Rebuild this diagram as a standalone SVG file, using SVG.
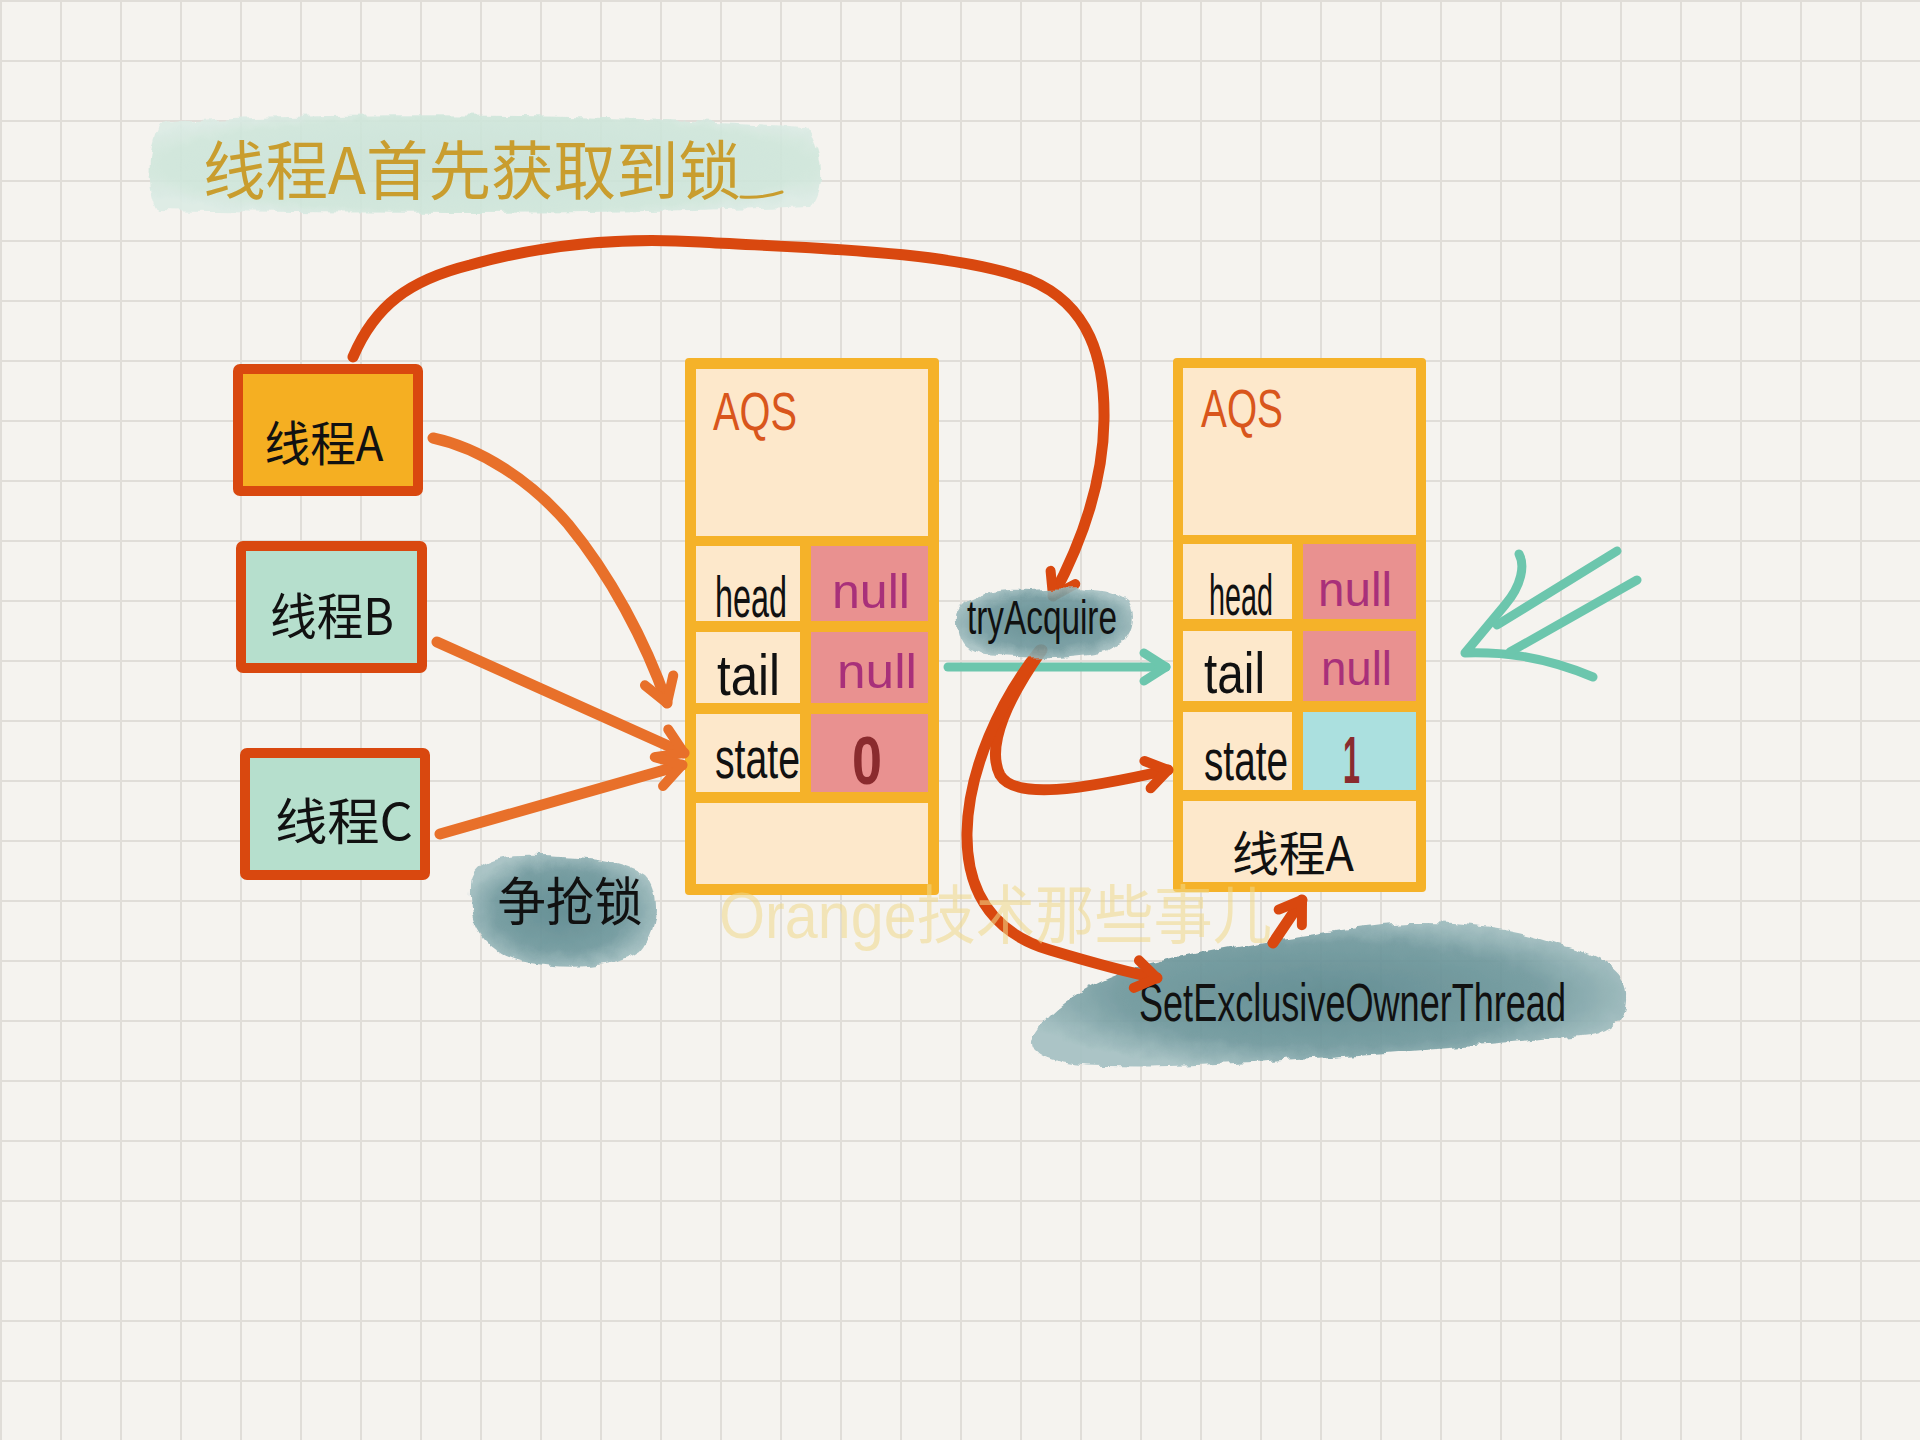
<svg xmlns="http://www.w3.org/2000/svg" width="1920" height="1440" viewBox="0 0 1920 1440">
<defs>
<style>
.hw{font-family:"Liberation Sans","Noto Sans CJK SC",sans-serif;}
.cjk{font-family:"Noto Sans CJK SC","Liberation Sans",sans-serif;}
.lbl{font-size:58px;fill:#111;}
.nul{font-size:48px;fill:#a8307a;}
.cell{fill:#fde8cb;}
.pink{fill:#e99190;}
.frame{fill:#f5b229;}
.tbox{stroke:#d9480f;stroke-width:10;}
.line{fill:none;stroke-linecap:round;stroke-linejoin:round;}
.red{stroke:#d9480f;stroke-width:11;}
.org{stroke:#e8702a;stroke-width:11;}
.teal{stroke:#6cc6ad;stroke-width:9;}
</style>
<pattern id="grid" width="60" height="60" patternUnits="userSpaceOnUse">
<path d="M0,1H60M1,0V60" stroke="#e0ddd8" stroke-width="2" fill="none"/>
</pattern>
<radialGradient id="ink" cx="50%" cy="50%" r="55%">
<stop offset="0" stop-color="#5b888e"/>
<stop offset="0.65" stop-color="#6f989d"/>
<stop offset="1" stop-color="#a5c1c3"/>
</radialGradient>
<radialGradient id="mint" cx="50%" cy="50%" r="60%">
<stop offset="0" stop-color="#c9e2d6"/>
<stop offset="0.8" stop-color="#cfe6db"/>
<stop offset="1" stop-color="#dcece5"/>
</radialGradient>
<filter id="rough" x="-10%" y="-25%" width="120%" height="150%">
<feTurbulence type="fractalNoise" baseFrequency="0.06" numOctaves="3" seed="4" result="n"/>
<feDisplacementMap in="SourceGraphic" in2="n" scale="9" xChannelSelector="R" yChannelSelector="G"/>
</filter>
<marker id="ah-red" markerUnits="userSpaceOnUse" markerWidth="60" markerHeight="60" viewBox="-30 -30 60 60" refX="0" refY="0" orient="auto">
<path d="M-21,-14 L0,0 L-21,14" fill="none" stroke="#d9480f" stroke-width="10" stroke-linecap="round" stroke-linejoin="round"/>
</marker>
<marker id="ah-org" markerUnits="userSpaceOnUse" markerWidth="60" markerHeight="60" viewBox="-30 -30 60 60" refX="0" refY="0" orient="auto">
<path d="M-24,-15 L0,0 L-24,15" fill="none" stroke="#e8702a" stroke-width="10" stroke-linecap="round" stroke-linejoin="round"/>
</marker>
<marker id="ah-teal" markerUnits="userSpaceOnUse" markerWidth="60" markerHeight="60" viewBox="-30 -30 60 60" refX="0" refY="0" orient="auto">
<path d="M-22,-14 L0,0 L-22,14" fill="none" stroke="#6cc6ad" stroke-width="9" stroke-linecap="round" stroke-linejoin="round"/>
</marker>
</defs>

<rect width="1920" height="1440" fill="#f5f3ef"/>
<rect width="1920" height="1440" fill="url(#grid)"/>

<g id="title">
<path d="M160,124 C300,110 600,114 806,127 C824,150 826,190 812,206 C600,216 300,213 158,210 C146,190 147,146 160,124 Z" fill="url(#mint)" opacity="0.9" filter="url(#rough)"/>
<text class="cjk" x="203" y="166" dominant-baseline="central" font-size="64" textLength="538" lengthAdjust="spacingAndGlyphs" fill="#c99d2e">线程A首先获取到锁</text>
<path d="M741,197 C755,198 770,196 782,192" class="line" stroke="#c99d2e" stroke-width="3"/>
</g>

<g id="thread-a">
<rect x="238" y="369" width="180" height="122" rx="2" fill="#f5af22" class="tbox"/>
<text class="cjk" x="324" y="440" dominant-baseline="central" text-anchor="middle" font-size="48" textLength="119" lengthAdjust="spacingAndGlyphs" fill="#111">线程A</text>
</g>
<g id="thread-b">
<rect x="241" y="546" width="181" height="122" rx="2" fill="#b6dfcd" class="tbox"/>
<text class="cjk" x="332" y="613" dominant-baseline="central" text-anchor="middle" font-size="50" textLength="124" lengthAdjust="spacingAndGlyphs" fill="#111">线程B</text>
</g>
<g id="thread-c">
<rect x="245" y="753" width="180" height="122" rx="2" fill="#b6dfcd" class="tbox"/>
<text class="cjk" x="344" y="818" dominant-baseline="central" text-anchor="middle" font-size="50" textLength="138" lengthAdjust="spacingAndGlyphs" fill="#111">线程C</text>
</g>

<g id="aqs-before">
<rect x="685" y="358" width="254" height="537" rx="4" class="frame"/>
<rect x="696" y="369" width="232" height="167" class="cell"/>
<rect x="696" y="546" width="104" height="75" class="cell"/>
<rect x="811" y="546" width="117" height="75" class="pink"/>
<rect x="696" y="632" width="104" height="71" class="cell"/>
<rect x="811" y="632" width="117" height="71" class="pink"/>
<rect x="696" y="714" width="104" height="78" class="cell"/>
<rect x="811" y="714" width="117" height="78" class="pink"/>
<rect x="696" y="803" width="232" height="81" class="cell"/>
<text class="hw" x="713" y="430" font-size="54" textLength="84" lengthAdjust="spacingAndGlyphs" fill="#d9561c">AQS</text>
<text class="hw lbl" transform="translate(715,617) scale(0.558,1)">head</text>
<text class="hw nul" x="832" y="608" textLength="78" lengthAdjust="spacingAndGlyphs">null</text>
<text class="hw lbl" x="717" y="695" textLength="63" lengthAdjust="spacingAndGlyphs">tail</text>
<text class="hw nul" x="837" y="688" textLength="80" lengthAdjust="spacingAndGlyphs">null</text>
<text class="hw lbl" transform="translate(715,778) scale(0.676,1)">state</text>
<text class="hw" x="852" y="784" font-size="68" font-weight="bold" textLength="30" lengthAdjust="spacingAndGlyphs" fill="#8a2b2e">0</text>
</g>

<g id="aqs-after">
<rect x="1173" y="358" width="253" height="534" rx="4" class="frame"/>
<rect x="1183" y="368" width="233" height="167" class="cell"/>
<rect x="1183" y="544" width="109" height="75" class="cell"/>
<rect x="1303" y="544" width="113" height="75" class="pink"/>
<rect x="1183" y="631" width="109" height="70" class="cell"/>
<rect x="1303" y="631" width="113" height="70" class="pink"/>
<rect x="1183" y="712" width="109" height="78" class="cell"/>
<rect x="1303" y="712" width="113" height="78" fill="#abe0df"/>
<rect x="1183" y="801" width="233" height="81" class="cell"/>
<text class="hw" x="1201" y="427" font-size="54" textLength="82" lengthAdjust="spacingAndGlyphs" fill="#d9561c">AQS</text>
<text class="hw lbl" transform="translate(1209,615) scale(0.496,1)">head</text>
<text class="hw nul" x="1318" y="606" textLength="74" lengthAdjust="spacingAndGlyphs">null</text>
<text class="hw lbl" x="1204" y="693" textLength="61" lengthAdjust="spacingAndGlyphs">tail</text>
<text class="hw nul" x="1321" y="685" textLength="71" lengthAdjust="spacingAndGlyphs">null</text>
<text class="hw lbl" transform="translate(1204,780) scale(0.668,1)">state</text>
<text class="hw" x="1343" y="783" font-size="66" font-weight="bold" textLength="17" lengthAdjust="spacingAndGlyphs" fill="#8a2b2e">1</text>
<text class="cjk" x="1293" y="850" dominant-baseline="central" text-anchor="middle" font-size="48" textLength="122" lengthAdjust="spacingAndGlyphs" fill="#111">线程A</text>
</g>

<g id="set-exclusive">
<path d="M1032,1040 C1050,1005 1100,975 1160,962 C1230,945 1300,936 1380,925 C1450,918 1520,930 1560,945 C1600,955 1628,970 1626,995 C1627,1012 1620,1030 1590,1035 C1500,1045 1400,1052 1330,1057 C1250,1062 1170,1068 1110,1066 C1070,1066 1030,1060 1032,1040 Z" fill="url(#ink)" opacity="0.92" filter="url(#rough)"/>
<text class="hw" x="1139" y="1021" font-size="54" textLength="427" lengthAdjust="spacingAndGlyphs" fill="#111">SetExclusiveOwnerThread</text>
</g>

<g id="contend-lock">
<path d="M470,890 C468,862 500,853 540,855 C580,857 620,858 645,875 C660,890 658,930 640,950 C615,968 570,970 530,963 C495,957 468,935 470,890 Z" fill="url(#ink)" opacity="0.92" filter="url(#rough)"/>
<text class="cjk" x="570" y="898" dominant-baseline="central" text-anchor="middle" font-size="52" textLength="145" lengthAdjust="spacingAndGlyphs" fill="#111">争抢锁</text>
</g>

<g id="connectors" class="line">
<path class="line org" d="M433,438 C480,448 530,480 568,524 C610,575 645,640 667,703" marker-end="url(#ah-org)"/>
<path class="line org" d="M437,642 L684,753" marker-end="url(#ah-org)"/>
<path class="line org" d="M440,834 L682,765" marker-end="url(#ah-org)"/>
<path class="line red" d="M353,357 C375,305 410,280 470,265 C560,240 640,238 700,242 C800,248 950,250 1030,280 C1090,305 1105,360 1104,420 C1103,490 1075,555 1053,596" marker-end="url(#ah-red)"/>
<path class="line teal" d="M948,667 L1166,667" marker-end="url(#ah-teal)"/>
<path class="line red" d="M1042,650 C1010,695 985,745 1000,775 C1015,800 1080,790 1168,770" marker-end="url(#ah-red)"/>
<path class="line red" d="M1040,650 C1000,700 968,770 967,833 C966,900 1000,935 1050,950 C1090,962 1125,972 1157,978" marker-end="url(#ah-red)"/>
<path class="line red" d="M1273,943 L1302,900" marker-end="url(#ah-red)"/>
<path class="line teal" d="M1519,554 C1525,565 1522,585 1505,605 L1465,653 C1500,652 1540,655 1593,677"/>
<path class="line teal" d="M1617,551 L1497,625"/>
<path class="line teal" d="M1637,580 L1510,652"/>
</g>

<g id="try-acquire">
<path d="M958,620 C955,600 985,588 1030,590 C1070,588 1110,585 1128,600 C1138,615 1133,640 1110,650 C1070,660 1020,658 985,655 C965,652 958,640 958,620 Z" fill="url(#ink)" opacity="0.9" filter="url(#rough)"/>
<text class="hw" x="967" y="634" font-size="48" textLength="150" lengthAdjust="spacingAndGlyphs" fill="#111">tryAcquire</text>
</g>

<g id="watermark">
<text class="hw" x="719" y="938" font-size="64" textLength="553" lengthAdjust="spacingAndGlyphs" fill="#f0d98a" opacity="0.55">Orange技术那些事儿</text>
</g>
</svg>
